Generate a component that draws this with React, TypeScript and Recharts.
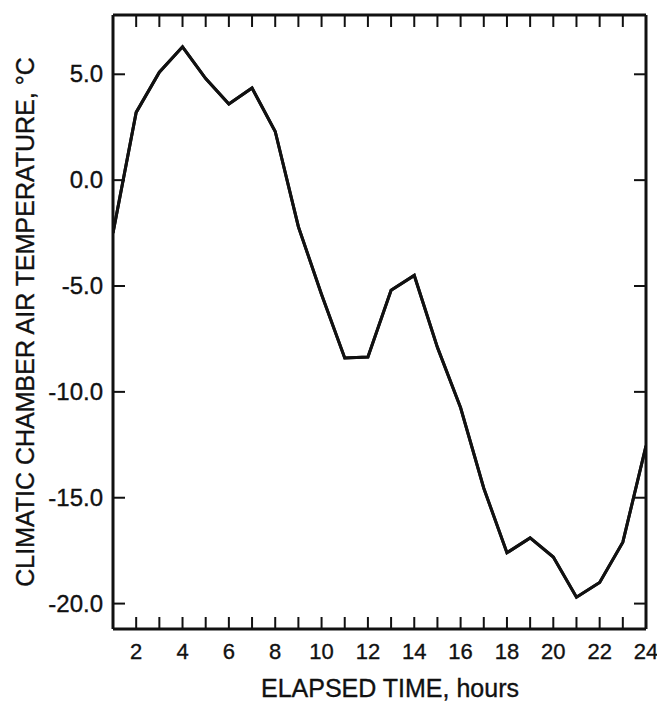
import { LineChart, Line, XAxis, YAxis, Label } from "recharts";

// hourly readings
const HOURS = [1, 2, 3, 4, 5, 6, 7, 8, 9, 10, 11, 12, 13, 14, 15, 16, 17, 18, 19, 20, 21, 22, 23, 24];
const AIR_TEMP = [
  -2.5, 3.2, 5.1, 6.3, 4.8, 3.6, 4.35, 2.3, -2.2, -5.4, -8.4, -8.35,
  -5.2, -4.5, -7.9, -10.75, -14.55, -17.6, -16.9, -17.8, -19.7, -19.0, -17.1, -12.55,
];

const X_TICKS = [2, 3, 4, 5, 6, 7, 8, 9, 10, 11, 12, 13, 14, 15, 16, 17, 18, 19, 20, 21, 22, 23, 24];
const Y_TICKS = [-20, -15, -10, -5, 0, 5];

const X_TITLE = "ELAPSED TIME, hours";
const Y_TITLE = "CLIMATIC CHAMBER AIR TEMPERATURE, °C";

const INK = "#111";
const FONT = "Arial, 'Liberation Sans', Helvetica, sans-serif";
const TICK_LEN = 12;
// scanned print looks a bit heavier than plain regular weight
const TEXT_STROKE = { stroke: INK, strokeWidth: 0.35 };

const data = HOURS.map((hour, i) => ({ hour, temp: AIR_TEMP[i] }));

const frame = { stroke: INK, strokeWidth: 3 };

// tick marks point into the plot, so they are drawn here rather than by tickLine
function BottomTick(props: any) {
  const { x, y, payload } = props;
  const v = payload.value as number;
  return (
    <g>
      <line x1={x} x2={x} y1={y} y2={y - TICK_LEN} stroke={INK} strokeWidth={2} />
      {v % 2 === 0 && (
        <text x={x} y={y + 30} textAnchor="middle" fill={INK} fontSize={22} fontFamily={FONT} {...TEXT_STROKE}>
          {v}
        </text>
      )}
    </g>
  );
}

function TopTick(props: any) {
  const { x, y } = props;
  return <line x1={x} x2={x} y1={y} y2={y + TICK_LEN} stroke={INK} strokeWidth={2} />;
}

function LeftTick(props: any) {
  const { x, y, payload } = props;
  return (
    <g>
      <line x1={x} x2={x + TICK_LEN} y1={y} y2={y} stroke={INK} strokeWidth={2} />
      <text x={x - 10} y={y + 8} textAnchor="end" fill={INK} fontSize={24} fontFamily={FONT} {...TEXT_STROKE}>
        {(payload.value as number).toFixed(1)}
      </text>
    </g>
  );
}

function RightTick(props: any) {
  const { x, y } = props;
  return <line x1={x} x2={x - TICK_LEN} y1={y} y2={y} stroke={INK} strokeWidth={2} />;
}

export default function App() {
  return (
    <div style={{ position: "absolute", left: 0, top: 0, background: "#fff" }}>
      <LineChart
        width={657}
        height={702}
        data={data}
        margin={{ top: 14, right: 10, bottom: 0, left: 0 }}
      >
        <XAxis
          dataKey="hour"
          type="number"
          domain={[1, 24]}
          allowDataOverflow
          ticks={X_TICKS}
          interval={0}
          height={73}
          axisLine={frame}
          tickLine={false}
          tickSize={0}
          tickMargin={0}
          tick={<BottomTick />}
        >
          <Label
            content={() => (
              <text
                x={390}
                y={697}
                textAnchor="middle"
                fill={INK}
                fontSize={25}
                fontFamily={FONT}
                {...TEXT_STROKE}
              >
                {X_TITLE}
              </text>
            )}
          />
        </XAxis>
        <XAxis
          xAxisId="top"
          orientation="top"
          dataKey="hour"
          type="number"
          domain={[1, 24]}
          allowDataOverflow
          ticks={X_TICKS}
          interval={0}
          height={1}
          axisLine={frame}
          tickLine={false}
          tickSize={0}
          tickMargin={0}
          tick={<TopTick />}
        />
        <YAxis
          type="number"
          domain={[-21.2, 7.8]}
          allowDataOverflow
          ticks={Y_TICKS}
          interval={0}
          width={113}
          axisLine={frame}
          tickLine={false}
          tickSize={0}
          tickMargin={0}
          tick={<LeftTick />}
        >
          <Label
            content={() => (
              <text
                x={25}
                y={322}
                transform="rotate(-90, 25, 322)"
                textAnchor="middle"
                dominantBaseline="central"
                fill={INK}
                fontSize={25}
                fontFamily={FONT}
                {...TEXT_STROKE}
              >
                {Y_TITLE}
              </text>
            )}
          />
        </YAxis>
        <YAxis
          yAxisId="right"
          orientation="right"
          type="number"
          domain={[-21.2, 7.8]}
          allowDataOverflow
          ticks={Y_TICKS}
          interval={0}
          width={1}
          axisLine={frame}
          tickLine={false}
          tickSize={0}
          tickMargin={0}
          tick={<RightTick />}
        />
        <Line
          type="linear"
          dataKey="temp"
          stroke={INK}
          strokeWidth={3}
          dot={false}
          isAnimationActive={false}
        />
        {/* same series on the top/right axes so those frame sides get drawn */}
        <Line
          xAxisId="top"
          yAxisId="right"
          type="linear"
          dataKey="temp"
          stroke={INK}
          strokeWidth={3}
          dot={false}
          isAnimationActive={false}
          legendType="none"
        />
      </LineChart>
    </div>
  );
}
